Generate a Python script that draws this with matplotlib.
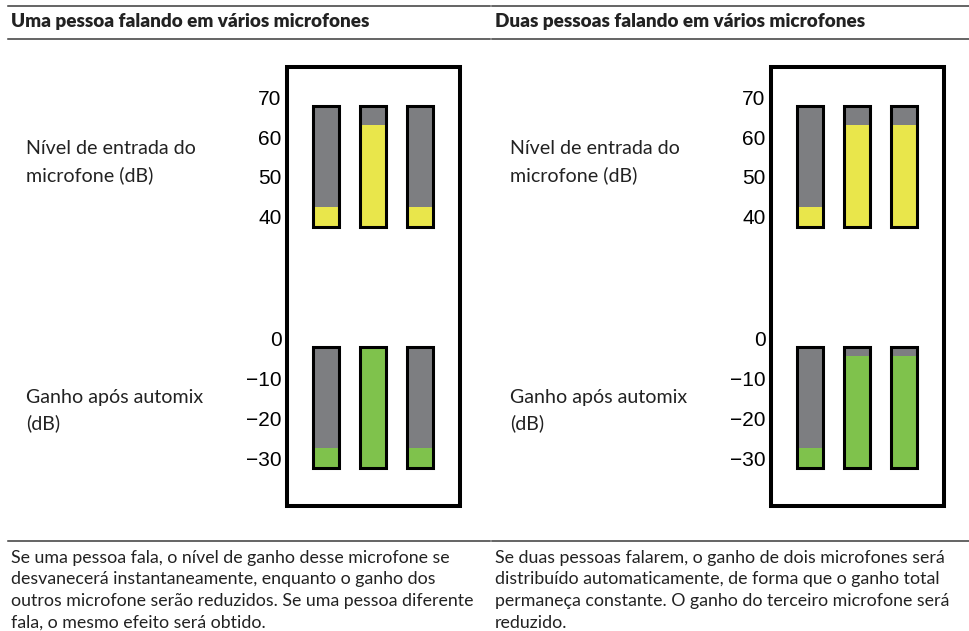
import matplotlib.pyplot as plt
from matplotlib.patches import Rectangle

W, H = 969, 631

titles = ["Uma pessoa falando em vários microfones",
          "Duas pessoas falando em vários microfones"]
notes = [
    ["Se uma pessoa fala, o nível de ganho desse microfone se",
     "desvanecerá instantaneamente, enquanto o ganho dos",
     "outros microfone serão reduzidos. Se uma pessoa diferente",
     "fala, o mesmo efeito será obtido."],
    ["Se duas pessoas falarem, o ganho de dois microfones será",
     "distribuído automaticamente, de forma que o ganho total",
     "permaneça constante. O ganho do terceiro microfone será",
     "reduzido."],
]
input_label = ["Nível de entrada do", "microfone (dB)"]
gain_label = ["Ganho após automix", "(dB)"]

mics = [0, 1, 2]
input_ticks = [40, 50, 60, 70]
gain_ticks = [0, -10, -20, -30]
input_range = (37.5, 67.7)     # meter floor / ceiling, dB
gain_range = (-32.4, -2.2)
input_levels = [[42.5, 63.0, 42.5], [42.5, 63.0, 63.0]]
gain_levels = [[-27.4, -2.2, -27.4], [-27.4, -4.4, -4.4]]

GREY = "#7d7e81"
YELLOW = "#e9e64b"
GREEN = "#7fc24c"
INK = "#222222"
RULE = "#3a3a3a"

plt.rcParams['font.family'] = ['Lato', 'DejaVu Sans']

fig = plt.figure(figsize=(W / 100, H / 100), dpi=100)
bg = fig.add_axes([0, 0, 1, 1])
bg.set_xlim(0, W)
bg.set_ylim(H, 0)
bg.axis("off")


def px_axes(left, top, width, height):
    return fig.add_axes([left / W, 1 - (top + height) / H, width / W, height / H])


def meter(ax, levels, rng, ticks, ylim, fill):
    lo, hi = rng
    ax.bar(mics, hi - lo, bottom=lo, width=0.54, color=GREY, lw=0)
    ax.bar(mics, [v - lo for v in levels], bottom=lo, width=0.54, color=fill, lw=0)
    ax.bar(mics, hi - lo, bottom=lo, width=0.54, fill=False,
           edgecolor="black", lw=2.2)
    ax.set_xlim(-0.5, 2.5)
    ax.set_ylim(*ylim)
    ax.set_xticks([])
    ax.set_yticks(ticks)
    ax.tick_params(axis="y", length=0, pad=15, labelsize=15)
    for lab in ax.get_yticklabels():
        lab.set_fontfamily("Liberation Sans")
        lab.set_color("black")
    for s in ax.spines.values():
        s.set_visible(False)
    ax.patch.set_visible(False)


# table rules
for y in (5.5, 38.5, 541):
    bg.plot([8, 490.5], [y, y], color=RULE, lw=1.1)
    bg.plot([492, W], [y, y], color=RULE, lw=1.1)

for col in range(2):
    off = 484 * col
    bg.text(11 + off, 26.7, titles[col], fontsize=13.6, fontweight="heavy",
            color=INK, va="baseline")

    for i, line in enumerate(input_label):
        bg.text(26 + off, 154.3 + 26.7 * i, line, fontsize=14.1, color=INK, va="baseline")
    for i, line in enumerate(gain_label):
        bg.text(26 + off, 402.7 + 26.7 * i, line, fontsize=14.1, color=INK, va="baseline")

    bg.add_patch(Rectangle((287 + off, 67), 172.7, 439, fill=False,
                           edgecolor="black", lw=2.9))

    ax_in = px_axes(302.5 + off, 80, 141, 160)
    meter(ax_in, input_levels[col], input_range, input_ticks, (34.15, 74.35), YELLOW)
    ax_gain = px_axes(302.5 + off, 320, 141, 170)
    meter(ax_gain, gain_levels[col], gain_range, gain_ticks, (-37.9, 4.49), GREEN)

    for i, line in enumerate(notes[col]):
        bg.text(11 + off, 562.7 + 21.7 * i, line, fontsize=12.8, color=INK, va="baseline")

fig.savefig("out.png", dpi=100)
